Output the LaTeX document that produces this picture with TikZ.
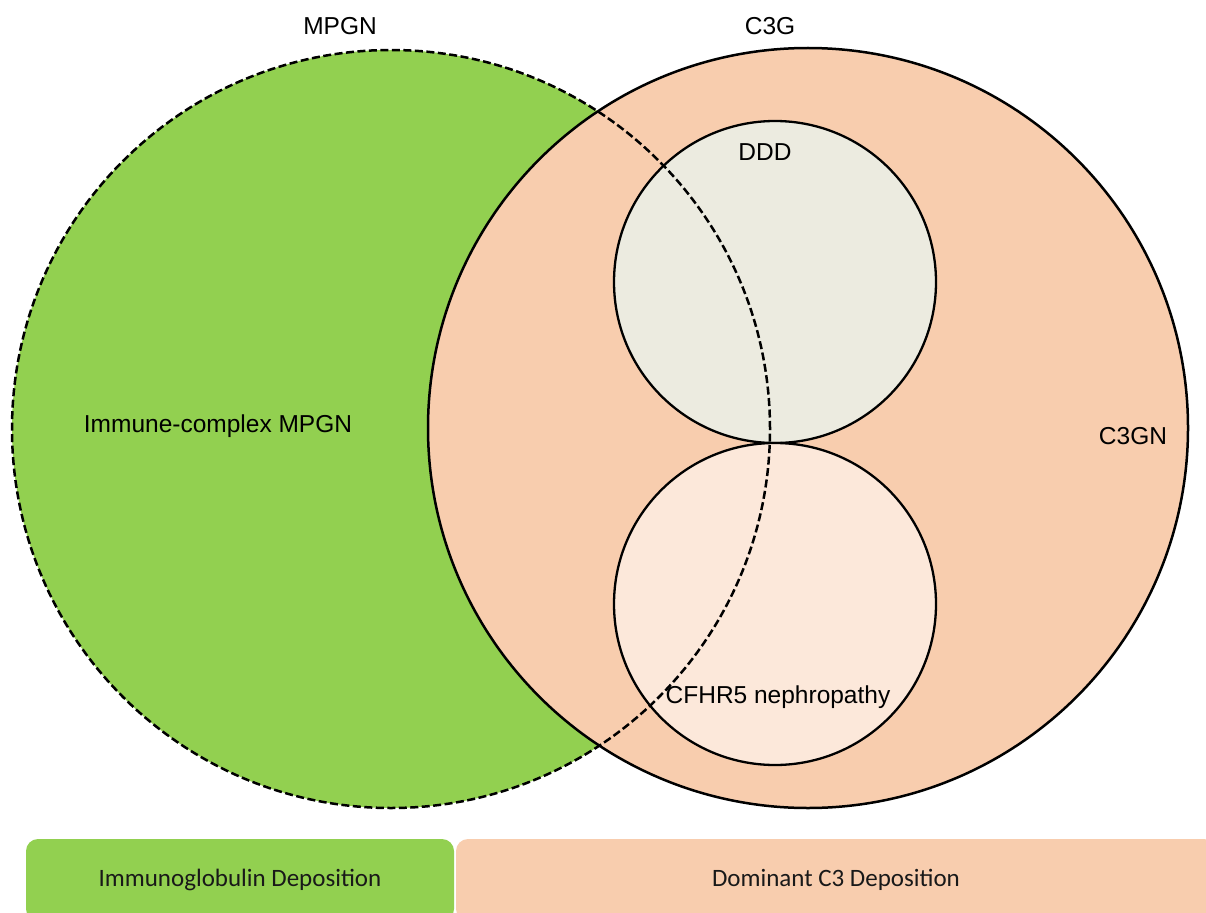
\documentclass[tikz,border=0pt]{standalone}
\usepackage{fontspec}
\setmainfont{Liberation Sans}
\newfontfamily\boxfont{Carlito}
\begin{document}
\begin{tikzpicture}[x=1pt,y=-1pt,
  set/.style={circle, inner sep=0pt, line width=2.5pt},
  subset/.style={circle, inner sep=0pt, line width=2.3pt, draw=black},
  lbl/.style={font=\fontsize{24.5}{28}\selectfont, text=black},
  band/.style={rounded corners=12pt, inner sep=0pt, minimum height=82pt,
               font=\boxfont\fontsize{25}{29}\selectfont, text=black!90}]
  \definecolor{mpgngreen}{HTML}{92D050}
  \definecolor{c3peach}{HTML}{F8CDAE}
  \definecolor{dddgrey}{HTML}{ECEBE0}
  \definecolor{cfhrpeach}{HTML}{FCE8DA}

  \useasboundingbox (0,0) rectangle (1206,912);
  \clip (0,0) rectangle (1206,912);

  % the two large sets
  \node[set, fill=mpgngreen, minimum size=758pt] (mpgn) at (391,429) {};
  \node[set, fill=c3peach, draw=black, minimum size=760pt] (c3g) at (808,428) {};

  % the two subsets inside C3G
  \node[subset, fill=dddgrey, minimum size=322pt] (ddd) at (775,282) {};
  \node[subset, fill=cfhrpeach, minimum size=322pt] (cfhr) at (775,604) {};

  % dashed outline of MPGN drawn on top of everything
  \node[set, draw=black, dash pattern=on 8pt off 3.5pt, minimum size=758pt] (mpgnline) at (391,429) {};

  % labels
  \node[lbl] (lmpgn) at (340,26) {MPGN};
  \node[lbl] (lc3g) at (770,26) {C3G};
  \node[lbl] (lddd) at (765,152) {DDD};
  \node[lbl] (limc) at (218,426) {Immune-complex MPGN};
  \node[lbl] (lc3gn) at (1133,436) {C3GN};
  \node[lbl] (lcfhr) at (778,697) {CFHR5 nephropathy};

  % bottom bands
  \node[band, fill=mpgngreen, minimum width=428pt] (igband) at (240,880) {Immunoglobulin Deposition};
  \node[band, fill=c3peach, minimum width=760pt] (c3band) at (836,880) {Dominant C3 Deposition};
\end{tikzpicture}
\end{document}
